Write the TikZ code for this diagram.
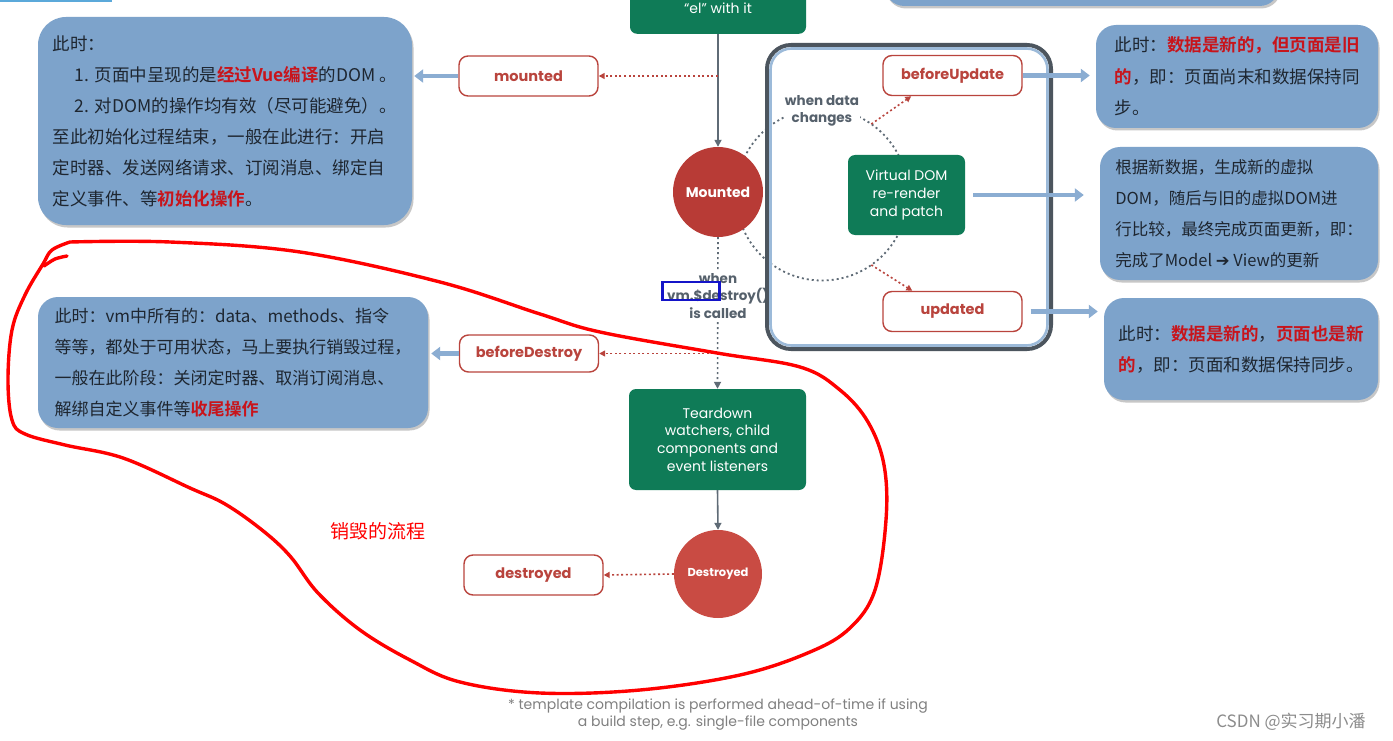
\documentclass[tikz,border=0pt]{standalone}
\usepackage{fontspec}
\setmainfont{Noto Sans CJK SC}
\newfontfamily\cjk{Noto Sans CJK SC}[BoldFont={Noto Sans CJK SC Bold}]
\newfontfamily\vuefont{Poppins}
\newfontfamily\dingfont{DejaVu Sans}
\usetikzlibrary{positioning,arrows.meta,calc,shadows}
\definecolor{boxblue}{HTML}{7DA3CB}
\definecolor{boxtext}{HTML}{1E2630}
\definecolor{keyred}{HTML}{C8141B}
\definecolor{hookred}{HTML}{B9443D}
\definecolor{vuegreen}{HTML}{0F7B57}
\definecolor{mountred}{HTML}{B83B36}
\definecolor{destroyred}{HTML}{C94B43}
\definecolor{linegrey}{HTML}{5F6B76}
\definecolor{labgrey}{HTML}{56616C}
\definecolor{arrowblue}{HTML}{8BADD2}
\definecolor{framegrey}{HTML}{4C555E}
\definecolor{frameblue}{HTML}{9CBAD9}
\definecolor{markblue}{HTML}{1414C8}
\definecolor{barblue}{HTML}{5BA9DA}
\newcommand{\redbf}[1]{\textcolor{keyred}{\bfseries #1}}

\begin{document}
\begin{tikzpicture}[x=1pt, y=-1pt,
    note/.style={fill=boxblue, rounded corners=20pt, text=boxtext, align=left, inner sep=0pt,
                 drop shadow={shadow xshift=1.5pt, shadow yshift=-2.5pt, opacity=.4, fill=black!55}},
    hook/.style={draw=hookred, line width=1.4pt, fill=white, rounded corners=9pt,
                 minimum width=139pt, minimum height=40pt, text=hookred,
                 font=\vuefont\bfseries\fontsize{14.5}{17}\selectfont},
    green/.style={fill=vuegreen, rounded corners=7pt, text=white, align=center,
                  font=\vuefont\fontsize{14}{17.6}\selectfont},
    phase/.style={circle, text=white, font=\vuefont\bfseries\fontsize{14}{16}\selectfont},
    lab/.style={fill=white, inner sep=1pt, align=center, text=labgrey,
                font=\vuefont\bfseries\fontsize{13.5}{17.5}\selectfont},
    flow/.style={-{Triangle[length=7pt,width=7pt]}, draw=linegrey, line width=1.6pt},
    wait/.style={flow, dash pattern=on 2pt off 3pt},
    hookarr/.style={-{Triangle[length=6pt,width=6pt]}, draw=hookred, line width=1.6pt,
                    dash pattern=on 2pt off 2.6pt},
    tell/.style={-{Triangle[length=9pt,width=13pt]}, draw=arrowblue, line width=4.5pt},
  ]
  \fill[white] (0,0) rectangle (1393,741);
  \useasboundingbox (0,0) rectangle (1393,741);
  \begin{scope}
  \clip (0,0) rectangle (1393,741);
  \fill[barblue] (0,0) rectangle (112,2.5);

  % update loop: dotted cycle
  \coordinate (cyc) at (822,194.5);
  \draw[linegrey, line width=1.8pt, dash pattern=on 2pt off 3pt] (cyc) circle[radius=86pt];

  % notes in Chinese
  \node[note, fill=boxblue, minimum width=395pt, minimum height=60pt] (prevNote) at (1082,-24) {};
  \node[note, rounded corners=28pt, minimum width=374pt, minimum height=208pt,
        font=\cjk\fontsize{17.5}{31}\selectfont] (mountNote) at (225,121)
    {此时：\\
     \hspace*{22pt}1. 页面中呈现的是\redbf{经过Vue编译}的DOM 。\\
     \hspace*{22pt}2. 对DOM的操作均有效（尽可能避免）。\\
     至此初始化过程结束，一般在此进行：开启\\
     定时器、发送网络请求、订阅消息、绑定自\\
     定义事件、等\redbf{初始化操作}。};
  \node[note, minimum width=390pt, minimum height=131pt,
        font=\cjk\fontsize{17}{31}\selectfont] (destroyNote) at (233,362.5)
    {此时：vm中所有的：data、methods、指令\\
     等等，都处于可用状态，马上要执行销毁过程，\\
     一般在此阶段：关闭定时器、取消订阅消息、\\
     解绑自定义事件等\redbf{收尾操作}};
  \node[note, minimum width=282pt, minimum height=103pt,
        font=\cjk\fontsize{17.5}{31.5}\selectfont] (oldNote) at (1237,76.5)
    {此时：\redbf{数据是新的，但页面是旧}\\
     \redbf{的}，即：页面尚末和数据保持同\\
     步。};
  \node[note, minimum width=278pt, minimum height=133pt,
        font=\cjk\fontsize{16.5}{31}\selectfont] (patchNote) at (1239,213.5)
    {根据新数据，生成新的虚拟\\
     DOM，随后与旧的虚拟DOM进\\
     行比较，最终完成页面更新，即：\\
     完成了Model {\dingfont\bfseries ➔} View的更新};
  \node[note, minimum width=274pt, minimum height=102pt,
        font=\cjk\fontsize{17.5}{31}\selectfont] (newNote) at (1241,349)
    {此时：\redbf{数据是新的}，\redbf{页面也是新}\\
     \redbf{的}，即：页面和数据保持同步。};

  % lifecycle
  \node[green, minimum width=176pt, anchor=south, inner ysep=20pt] (el) at (718,34)
    {“el” with it};
  \node[phase, fill=mountred, minimum size=90pt] (mounted) at (718,192) {Mounted};
  \node[green, minimum width=117pt, minimum height=80pt] (vdom) at (906.5,195)
    {Virtual DOM\\ re-render\\ and patch};
  \node[lab] (dataLab) at (822,111) {when data\\ changes};
  \node[green, minimum width=177pt, minimum height=101pt] (teardown) at (717.5,439.5)
    {Teardown\\ watchers, child\\ components and\\ event listeners};
  \node[phase, fill=destroyred, minimum size=88pt,
        font=\vuefont\bfseries\fontsize{11.5}{14}\selectfont] (destroyed) at (718,574) {Destroyed};

  % hooks
  \node[hook] (hkMounted) at (528.5,76) {mounted};
  \node[hook] (hkBeforeUpdate) at (952.5,75.5) {beforeUpdate};
  \node[hook] (hkUpdated) at (952.5,311.5) {updated};
  \node[hook, minimum height=37pt] (hkBeforeDestroy) at (529,353.5) {beforeDestroy};
  \node[hook] (hkDestroyed) at (533.5,575) {destroyed};

  \coordinate (tapMounted) at (el.south |- hkMounted.east);
  \coordinate (tapDestroy) at (el.south |- hkBeforeDestroy.east);

  \draw[flow] (el.south) -- (mounted.north);
  \draw[wait] (mounted.south) -- (teardown.north);
  \node[lab] (destroyLab) at (718,296) {when\\ vm.\$destroy()\\ is called};
  \draw[flow] (teardown.south) -- (destroyed.north);

  % update loop: frame
  \draw[framegrey, line width=4pt, rounded corners=24pt] (767,45) rectangle (1051,349);
  \draw[frameblue, line width=2.6pt, rounded corners=21pt] (770.5,48.5) rectangle (1047.5,345.5);

  \draw[hookarr] (tapMounted) -- (hkMounted.east);
  \draw[hookarr] (tapDestroy) -- (hkBeforeDestroy.east);
  \draw[hookarr] (destroyed.west) -- (hkDestroyed.east);
  \draw[hookarr] ($(cyc)+(55:86pt)$) -- ([xshift=29pt]hkBeforeUpdate.south west);
  \draw[hookarr] ($(cyc)+(-55:86pt)$) -- ([xshift=30pt]hkUpdated.north west);

  % to the notes
  \draw[tell, shorten >=2pt] (hkMounted.west) -- (mountNote.east |- hkMounted.west);
  \draw[tell, shorten >=3pt] (hkBeforeDestroy.west) -- (destroyNote.east |- hkBeforeDestroy.west);
  \draw[tell, shorten >=6pt] (hkBeforeUpdate.east) -- (oldNote.west |- hkBeforeUpdate.east);
  \draw[tell, shorten <=8pt, shorten >=16pt] (vdom.east) -- (patchNote.west |- vdom.east);
  \draw[tell, shorten <=8pt, shorten >=6pt] (hkUpdated.east) -- (newNote.west |- hkUpdated.east);

  % screenshot marks
  \node[draw=markblue, line width=2.6pt, minimum width=57pt, minimum height=18pt,
        inner sep=0pt] (mark) at (691,291) {};
  \draw[red, line width=3.4pt, line cap=round, line join=round] plot[smooth, tension=0.6] coordinates {
    (70,242) (170,242) (300,252) (440,282) (540,314) (600,332) (717,353) (800,367)
    (840,390) (868,422) (884,465) (886,520) (875,590) (850,628) (810,652) (740,675)
    (640,690) (540,693) (460,682) (410,660) (360,630) (318,593) (290,556) (262,530)
    (225,504) (190,488) (123,458) (65,445) (25,434) (12,420) (8,380) (12,330)
    (25,295) (43,264) (52,250) (70,242)};
  \draw[red, line width=3.4pt, line cap=round] plot[smooth] coordinates {(44,266) (55,259) (67,256)};
  \node[text=red, font=\cjk\fontsize{19}{22}\selectfont] (flowTitle) at (378,531) {销毁的流程};

  \node[text=black!50, align=center, font=\vuefont\fontsize{14}{17}\selectfont] (foot) at (718,715)
    {* template compilation is performed ahead-of-time if using\\ a build step, e.g. single-file components};
  \node[text=black!45, font=\cjk\fontsize{17}{20}\selectfont] (csdn) at (1291,722) {CSDN @实习期小潘};
  \end{scope}
\end{tikzpicture}
\end{document}
